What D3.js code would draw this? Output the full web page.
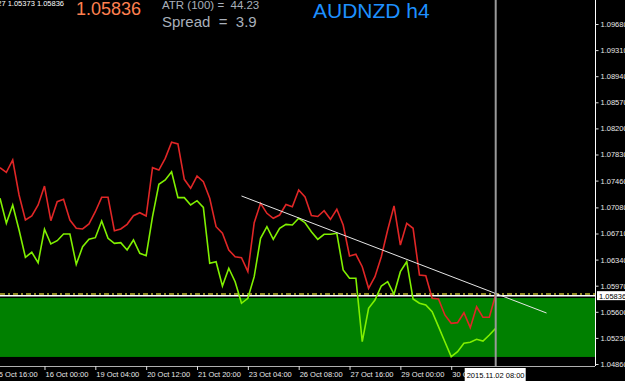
<!DOCTYPE html>
<html>
<head>
<meta charset="utf-8">
<script src="https://cdn.jsdelivr.net/npm/d3@7"></script>
<style>
  body { margin: 0; background: #000; }
  svg { display: block; }
  text { font-family: "Liberation Sans", Arial, sans-serif; }
</style>
</head>
<body>
<div id="chart"></div>
<script>
// bar-by-bar values (bar 0 = left edge, bar 78 = 2015.11.02 08:00)
const redLine = [1.07643, 1.07578, 1.07752, 1.07256, 1.06901, 1.06958, 1.07114, 1.07383, 1.06892, 1.07161,
  1.07195, 1.06901, 1.06784, 1.06774, 1.06845, 1.07019, 1.07223, 1.07223, 1.06750, 1.06774,
  1.06840, 1.06962, 1.07005, 1.06958, 1.07643, 1.07610, 1.07776, 1.08003, 1.07979, 1.07478,
  1.07351, 1.07525, 1.07444, 1.07209, 1.06806, 1.06713, 1.06476, 1.06381, 1.06367, 1.06169,
  1.06863, 1.07138, 1.06996, 1.06926, 1.06972, 1.07121, 1.07090, 1.07327, 1.07227, 1.06965,
  1.06951, 1.07033, 1.06911, 1.07053, 1.06831, 1.06391, 1.06415, 1.06239, 1.05933, 1.06098,
  1.06381, 1.06760, 1.07100, 1.06547, 1.06855, 1.06784, 1.06122, 1.06112, 1.05791, 1.05781,
  1.05555, 1.05437, 1.05446, 1.05587, 1.05375, 1.05672, 1.05522, 1.05522, 1.05845];

const greenLine = [1.07209, 1.06855, 1.07114, 1.06760, 1.06373, 1.06444, 1.06296, 1.06770, 1.06561, 1.06608,
  1.06703, 1.06703, 1.06273, 1.06523, 1.06628, 1.06651, 1.06887, 1.06642, 1.06571, 1.06580,
  1.06476, 1.06618, 1.06429, 1.06395, 1.06948, 1.07408, 1.07468, 1.07586, 1.07218, 1.07218,
  1.07114, 1.07175, 1.07081, 1.06288, 1.06310, 1.05966, 1.06217, 1.06027, 1.05721, 1.05791,
  1.06098, 1.06642, 1.06806, 1.06628, 1.06784, 1.06840, 1.06831, 1.06926, 1.06863, 1.06736,
  1.06628, 1.06699, 1.06699, 1.06713, 1.06193, 1.06075, 1.06075, 1.05176, 1.05650, 1.05767,
  1.05966, 1.06027, 1.05848, 1.06169, 1.06310, 1.05781, 1.05721, 1.05696, 1.05601, 1.05389,
  1.05176, 1.04964, 1.05034, 1.05153, 1.05168, 1.05210, 1.05186, 1.05271, 1.05366];

const priceTicks = [1.09680, 1.09310, 1.08940, 1.08570, 1.08200, 1.07830, 1.07460,
  1.07080, 1.06710, 1.06340, 1.05970, 1.05600, 1.05230, 1.04860];

const timeBars = [-1, 7, 15, 23, 31, 39, 47, 55, 63, 71];
const timeLabels = ["15 Oct 16:00", "16 Oct 00:00", "19 Oct 04:00", "20 Oct 12:00", "21 Oct 20:00",
  "23 Oct 04:00", "26 Oct 08:00", "27 Oct 16:00", "29 Oct 00:00", "30 Oct 08:00"];

const bid = 1.05836;
const spread = 3.9;
const atr = 44.23;
const zone = { top: 1.05795, bottom: 1.04960 };
const trend = [{ bar: 38, price: 1.07242 }, { bar: 86, price: 1.05583 }];
const cursorBar = 78;
const cursorLabel = "2015.11.02 08:00";

const W = 625, H = 381;
const plotW = 595, plotH = 366;

const svg = d3.select("#chart").append("svg")
  .attr("width", W).attr("height", H)
  .style("background", "#000");

const x = d3.scaleLinear().domain([0, 78]).range([0, 495.7]);
const y = d3.scaleLinear().domain([1.04860, 1.09680]).range([364, 24]);

svg.append("clipPath").attr("id", "plot")
  .append("rect").attr("width", plotW).attr("height", plotH);

const plot = svg.append("g").attr("clip-path", "url(#plot)");

// green zone rectangle
plot.append("rect")
  .attr("x", 0).attr("width", plotW)
  .attr("y", y(zone.top)).attr("height", y(zone.bottom) - y(zone.top))
  .attr("fill", "#008000");

// ask line (dash-dot) and bid line
plot.append("line")
  .attr("x1", 0).attr("x2", plotW)
  .attr("y1", y(bid + spread / 100000) - 1).attr("y2", y(bid + spread / 100000) - 1)
  .attr("stroke", "#8f8a22").attr("stroke-width", 2)
  .attr("stroke-dasharray", "5,3,2,3");
plot.append("line")
  .attr("x1", 0).attr("x2", plotW)
  .attr("y1", y(bid) + 0.5).attr("y2", y(bid) + 0.5)
  .attr("stroke", "#fff").attr("stroke-width", 1.5);

const line = d3.line().x((d, i) => x(i)).y(d => y(d));

plot.append("path").datum(redLine)
  .attr("d", line).attr("fill", "none")
  .attr("stroke", "#e02626").attr("stroke-width", 1.6);
plot.append("path").datum(greenLine)
  .attr("d", line).attr("fill", "none")
  .attr("stroke", "#80f000").attr("stroke-width", 1.6);

// trendline
plot.append("line")
  .attr("x1", x(trend[0].bar)).attr("y1", y(trend[0].price))
  .attr("x2", x(trend[1].bar)).attr("y2", y(trend[1].price))
  .attr("stroke", "#e6e6e6").attr("stroke-width", 1);

// vertical cursor line
plot.append("line")
  .attr("x1", x(cursorBar)).attr("x2", x(cursorBar))
  .attr("y1", 0).attr("y2", plotH)
  .attr("stroke", "#9a9a9a").attr("stroke-width", 2);

// frame lines
svg.append("line").attr("x1", plotW + 0.5).attr("x2", plotW + 0.5).attr("y1", 0).attr("y2", plotH)
  .attr("stroke", "#fff").attr("stroke-width", 1);
svg.append("line").attr("x1", 0).attr("x2", plotW).attr("y1", plotH + 0.5).attr("y2", plotH + 0.5)
  .attr("stroke", "#b0b0b0").attr("stroke-width", 1);

// price axis
const yAxis = svg.append("g")
  .attr("transform", `translate(${plotW + 0.5},0)`)
  .call(d3.axisRight(y).tickValues(priceTicks).tickFormat(d3.format(".5f")).tickSize(3).tickPadding(2));
yAxis.select(".domain").remove();
yAxis.selectAll("line").attr("stroke", "#ddd");
yAxis.selectAll("text").attr("fill", "#e8e8e8").style("font-size", "7.5px");

// time axis
const xAxis = svg.append("g")
  .attr("transform", `translate(0,${plotH})`)
  .call(d3.axisBottom(x).tickValues(timeBars).tickFormat((d, i) => timeLabels[i]).tickSize(4).tickPadding(2));
xAxis.select(".domain").remove();
xAxis.selectAll("line").attr("stroke", "#ddd");
xAxis.selectAll("text").attr("fill", "#e8e8e8").style("font-size", "7.5px")
  .attr("text-anchor", "start").attr("x", 0.5);

// current price box
svg.append("rect").attr("x", 597).attr("y", y(bid) - 4).attr("width", 28).attr("height", 9).attr("fill", "#fff");
svg.append("text").attr("x", 599).attr("y", y(bid) + 3.5)
  .attr("fill", "#000").style("font-size", "7.5px").text(d3.format(".5f")(bid));

// cursor date box
svg.append("rect").attr("x", x(cursorBar) - 31).attr("y", 368).attr("width", 61).attr("height", 14).attr("fill", "#fff");
svg.append("text").attr("x", x(cursorBar) - 29).attr("y", 378)
  .attr("fill", "#000").style("font-size", "7.5px").text(cursorLabel);

// header texts
svg.append("text").attr("x", 64).attr("y", 6).attr("text-anchor", "end")
  .attr("fill", "#fff").style("font-size", "7.5px")
  .text("AUDNZD,H4 1.05400 1.05927 1.05373 1.05836");

svg.append("text").attr("x", 76).attr("y", 14.5)
  .attr("fill", "#ff8050").style("font-size", "18px").text(d3.format(".5f")(bid));

svg.append("text").attr("x", 162).attr("y", 9.3)
  .attr("fill", "#a9b0bb").style("font-size", "11.5px").style("white-space", "pre")
  .text(`ATR (100) =  ${atr}`);
svg.append("text").attr("x", 162).attr("y", 27)
  .attr("fill", "#a9b0bb").style("font-size", "15px").style("white-space", "pre")
  .text(`Spread  =  ${spread}`);

svg.append("text").attr("x", 313).attr("y", 18)
  .attr("fill", "#1e90ff").style("font-size", "21px").text("AUDNZD h4");
</script>
</body>
</html>
